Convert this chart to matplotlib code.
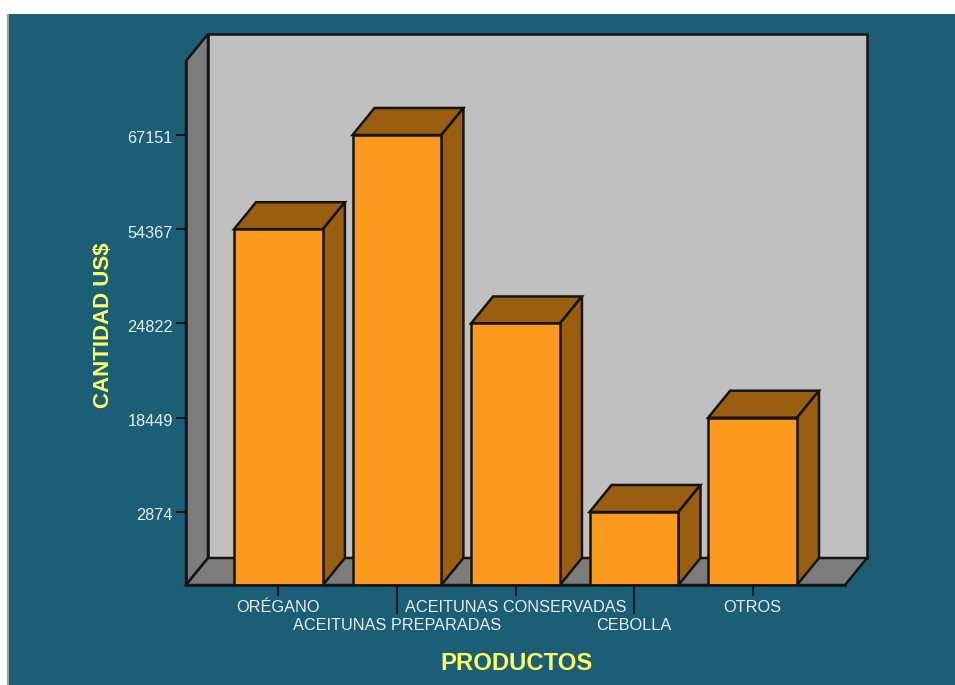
import numpy as np
import matplotlib
matplotlib.use("Agg")
import matplotlib.pyplot as plt
from matplotlib.patches import Polygon, Rectangle
from matplotlib.transforms import IdentityTransform, Affine2D

plt.rcParams['font.family'] = ['Liberation Sans', 'DejaVu Sans']

productos = ["OR\u00c9GANO", "ACEITUNAS PREPARADAS", "ACEITUNAS CONSERVADAS", "CEBOLLA", "OTROS"]
valores = [54367, 67151, 24822, 2874, 18449]
y_ticks = [2874, 18449, 24822, 54367, 67151]

# the value axis of the original is not linear, ticks sit at even steps
scale_vals = [0, 2874, 18449, 24822, 54367, 67151, 80000]
scale_pos = [0, 0.775, 1.775, 2.775, 3.775, 4.775, 5.56]

W, H = 955, 685
teal = "#1b5e75"
wall = "#c0c0c0"
side = "#7c7c7c"
orange = "#fc9a1f"
brown = "#9a5e10"
line = "#141414"
white_txt = "#e8eef0"
yellow = "#ffff66"
lw = 1.8
depth = (22, 27)

def forward(v):
    return np.interp(v, scale_vals, scale_pos)

def inverse(p):
    return np.interp(p, scale_pos, scale_vals)

fig = plt.figure(figsize=(W / 100, H / 100), dpi=100, facecolor="white")
fig.add_artist(Rectangle((8 / W, 0), 1 - 8 / W, 1 - 14 / H, transform=fig.transFigure,
                         facecolor=teal, edgecolor="none", zorder=-2))
fig.add_artist(Rectangle((7 / W, 0), 2 / W, 1 - 14 / H, transform=fig.transFigure,
                         facecolor="#9a9a9a", edgecolor="none", zorder=-1))

ax = fig.add_axes([186 / W, 1 - 585 / H, (845 - 186) / W, (585 - 61) / H])
ax.patch.set_visible(False)
ax.set_yscale("function", functions=(forward, inverse))
ax.set_xlim(-0.78, 4.78)
ax.set_ylim(0, 80000)

def face(points, color, zorder):
    # points are (x, value, 0 front / 1 back)
    xy = ax.transData.transform([(p[0], p[1]) for p in points])
    off = np.array([(depth[0] * p[2], depth[1] * p[2]) for p in points])
    ax.add_patch(Polygon(xy + off, closed=True, transform=IdentityTransform(), facecolor=color,
                         edgecolor=line, linewidth=lw, joinstyle="miter", clip_on=False, zorder=zorder))

x0, x1 = ax.get_xlim()
y0, y1 = ax.get_ylim()
face([(x0, y0, 1), (x1, y0, 1), (x1, y1, 1), (x0, y1, 1)], wall, 1)
face([(x0, y0, 0), (x0, y0, 1), (x0, y1, 1), (x0, y1, 0)], side, 1.1)
face([(x0, y0, 0), (x1, y0, 0), (x1, y0, 1), (x0, y0, 1)], side, 1.2)

width = 0.75
for i, v in enumerate(valores):
    a, b = i - width / 2, i + width / 2
    z = 2 + i * 0.1
    face([(a, v, 0), (b, v, 0), (b, v, 1), (a, v, 1)], brown, z)
    face([(b, 0, 0), (b, 0, 1), (b, v, 1), (b, v, 0)], brown, z)
    ax.bar(i, v, width, color=orange, edgecolor=line, linewidth=lw, zorder=z + 0.05)

for s in ["top", "right"]:
    ax.spines[s].set_visible(False)
for s in ["left", "bottom"]:
    ax.spines[s].set_color(line)
    ax.spines[s].set_linewidth(lw)
    ax.spines[s].set_zorder(5)

ax.set_yticks(y_ticks)
ax.set_yticklabels([str(t) for t in y_ticks])
ax.minorticks_off()
ax.set_xticks(range(len(productos)))
ax.set_xticklabels(productos)
ax.tick_params(axis="y", length=7.5, width=1.3, color=line, labelcolor=white_txt, labelsize=11.7, pad=2)
ax.tick_params(axis="x", length=8, width=1.3, color=line, labelcolor=white_txt, labelsize=11.7, pad=3)
for i, tick in enumerate(ax.xaxis.get_major_ticks()):
    if i % 2 == 1:
        # set_pad resets the marker size, so pad goes first
        tick.set_pad(15.5)
        tick.tick1line.set_markersize(21)
# labels sit a little below their tick in the original
for lab in ax.get_yticklabels():
    lab.set_transform(lab.get_transform() + Affine2D().translate(0, -2.5))

ax.set_xlabel("PRODUCTOS", color=yellow, fontsize=17.2, fontweight="bold")
ax.xaxis.set_label_coords((516 - 186) / (845 - 186), -(652 - 585) / (585 - 61))
ax.set_ylabel("CANTIDAD US$", color=yellow, fontsize=16, fontweight="bold")
ax.yaxis.set_label_coords(-(186 - 103) / (845 - 186), (585 - 325) / (585 - 61))
ax.yaxis.label.set_va("center")

fig.savefig("out.png", dpi=100, facecolor="white")
